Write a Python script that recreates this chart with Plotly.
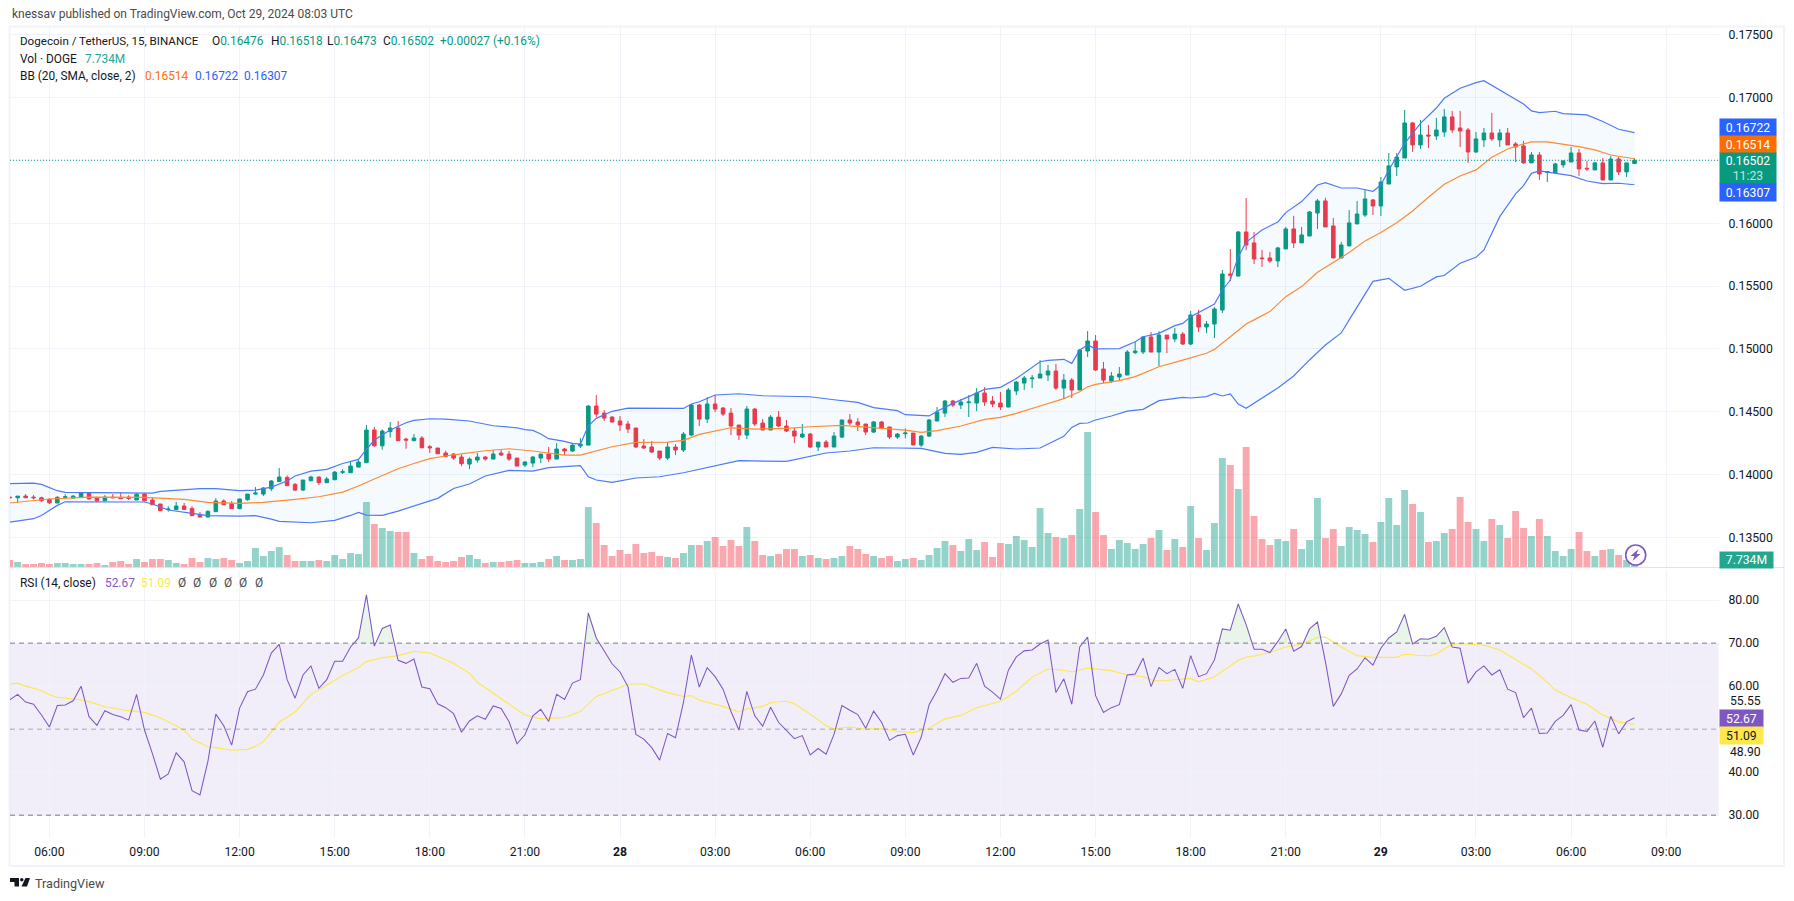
import numpy as np
import pandas as pd
import plotly.graph_objects as go

# ---- data (prices in 1e-5 USDT, one value per 15-minute bar) ----
opens_e5 = [
13820,13815,13828,13820,13815,13802,13773,13818,13812,13820,
13852,13815,13791,13820,13818,13820,13797,13844,13797,13765,
13720,13720,13749,13730,13682,13661,13704,13789,13767,13728,
13799,13844,13844,13887,13943,13977,13921,13876,13950,13980,
13935,13958,14017,14014,14059,14094,14354,14229,14341,14370,
14282,14269,14290,14221,14211,14171,14163,14139,14083,14115,
14139,14123,14171,14163,14131,14075,14091,14131,14163,14123,
14203,14187,14227,14234,14545,14489,14457,14426,14402,14370,
14227,14219,14187,14131,14219,14195,14314,14553,14441,14561,
14529,14489,14394,14314,14521,14410,14354,14457,14386,14346,
14298,14322,14219,14258,14219,14298,14434,14418,14402,14338,
14418,14378,14298,14325,14330,14235,14306,14426,14489,14585,
14553,14572,14569,14649,14585,14569,14537,14665,14728,14763,
14768,14792,14824,14688,14752,14673,14983,15063,14840,14744,
14776,14792,14970,14975,15095,14975,15110,15079,15118,15039,
15270,15174,15198,15310,15596,15580,15931,15844,15724,15724,
15700,15796,15955,15844,15899,16082,16178,15979,15724,15820,
15995,16066,16186,16138,16313,16449,16520,16799,16624,16703,
16695,16727,16847,16759,16743,16568,16664,16719,16664,16719,
16632,16616,16481,16544,16406,16401,16465,16488,16560,16438,
16425,16481,16345,16512,16409,16476]
highs_e5 = [
13823,13828,13844,13836,13823,13810,13828,13842,13836,13860,
13858,13823,13836,13844,13858,13834,13852,13850,13818,13765,
13746,13781,13773,13746,13701,13714,13812,13802,13789,13805,
13844,13900,13900,13956,14051,13993,13932,13956,13990,13985,
13980,14027,14043,14102,14115,14394,14378,14359,14418,14426,
14293,14322,14306,14234,14211,14189,14171,14160,14136,14171,
14147,14195,14200,14187,14131,14107,14147,14163,14219,14250,
14211,14242,14290,14553,14633,14513,14465,14465,14426,14370,
14282,14266,14187,14258,14242,14338,14561,14561,14617,14633,
14537,14529,14394,14545,14529,14441,14473,14505,14434,14370,
14402,14330,14258,14274,14338,14434,14481,14449,14402,14426,
14426,14378,14330,14367,14330,14314,14442,14537,14593,14593,
14601,14633,14688,14696,14625,14657,14688,14744,14784,14792,
14911,14872,14880,14800,14768,15000,15142,15110,14896,14816,
14856,14991,15055,15103,15134,15142,15110,15166,15134,15302,
15310,15222,15333,15628,15795,15939,16201,15931,15788,15772,
15812,15971,16059,15971,16098,16194,16202,16043,15852,16106,
16178,16266,16194,16369,16560,16560,16902,16807,16823,16783,
16839,16910,16895,16895,16759,16727,16759,16879,16751,16759,
16648,16656,16568,16568,16417,16481,16504,16608,16592,16496,
16488,16520,16536,16528,16481,16518]
lows_e5 = [
13810,13775,13812,13802,13781,13765,13773,13805,13812,13820,
13802,13778,13789,13812,13805,13797,13797,13786,13757,13709,
13704,13717,13717,13669,13661,13661,13704,13757,13725,13725,
13791,13839,13828,13868,13940,13908,13868,13868,13948,13916,
13932,13956,14004,14014,14059,14094,14219,14197,14293,14266,
14205,14266,14211,14171,14165,14136,14118,14067,14043,14094,
14110,14123,14147,14107,14067,14059,14059,14091,14099,14123,
14155,14179,14211,14234,14457,14426,14415,14346,14330,14211,
14203,14171,14115,14115,14155,14179,14306,14386,14410,14497,
14465,14314,14274,14282,14386,14354,14354,14378,14338,14250,
14290,14211,14187,14219,14219,14290,14394,14346,14314,14330,
14362,14282,14282,14288,14235,14219,14298,14426,14458,14537,
14521,14458,14505,14545,14537,14513,14537,14633,14673,14688,
14768,14744,14673,14601,14609,14673,14935,14824,14728,14728,
14744,14792,14959,14959,14975,14864,14967,15055,15031,15031,
15134,15126,15087,15286,15540,15580,15787,15676,15652,15684,
15652,15796,15804,15844,15899,15955,15971,15724,15724,15820,
15995,16051,16066,16059,16313,16377,16520,16568,16592,16600,
16664,16688,16719,16608,16481,16560,16608,16656,16608,16624,
16488,16473,16481,16345,16329,16401,16441,16488,16377,16417,
16425,16345,16345,16385,16369,16473]
closes_e5 = [
13815,13828,13815,13815,13791,13775,13818,13823,13828,13855,
13805,13791,13820,13815,13807,13810,13842,13791,13759,13712,
13725,13749,13722,13672,13661,13706,13789,13759,13728,13805,
13844,13852,13892,13948,13980,13911,13876,13956,13980,13935,
13964,14019,14022,14067,14099,14354,14229,14346,14370,14269,
14274,14290,14213,14213,14165,14144,14131,14086,14123,14139,
14123,14163,14155,14123,14067,14099,14139,14163,14123,14203,
14187,14234,14242,14545,14481,14449,14418,14394,14362,14219,
14211,14179,14131,14219,14195,14322,14553,14441,14561,14521,
14481,14386,14314,14521,14402,14354,14457,14386,14346,14306,
14322,14219,14258,14219,14306,14434,14410,14394,14338,14418,
14370,14298,14322,14330,14235,14306,14434,14497,14585,14553,
14577,14577,14649,14577,14561,14537,14673,14736,14768,14768,
14800,14824,14688,14752,14673,14991,15063,14832,14752,14784,
14800,14975,14983,15095,14975,15110,15079,15118,15039,15270,
15174,15198,15318,15596,15588,15931,15827,15716,15719,15700,
15804,15955,15844,15907,16090,16178,15971,15724,15828,16003,
16074,16194,16138,16329,16457,16528,16799,16624,16703,16695,
16743,16847,16743,16735,16568,16672,16719,16672,16719,16624,
16608,16481,16544,16393,16412,16473,16496,16560,16433,16433,
16481,16345,16512,16409,16481,16502]
volumes_m = [
10.5,7.5,4.5,4.5,6,4.5,6,6,4.5,4.5,
4.5,6,3,7.5,9,4.5,12,7.5,12,12,
10.5,6,4.5,13.5,7.5,13.5,12,13.5,10.5,6,
9,28.5,16.5,24,30,18,9,9,9,10.5,
9,18,12,21,19.5,97.5,64.5,58.5,54,52.5,
52.5,21,12,16.5,9,7.5,9,15,18,12,
6,7.5,7.5,9,10.5,6,6,7.5,12,16.5,
10.5,10.5,12,90,66,33,16.5,25.5,19.5,34.5,
21,22.5,16.5,15,13.5,21,33,33,39,45,
31.5,40.5,31.5,60,39,18,16.5,19.5,27,27,
16.5,18,13.5,12,13.5,16.5,31.5,27,19.5,16.5,
13.5,16.5,9,12,13.5,10.5,18,28.5,39,33,
24,42,25.5,37.5,15,36,34.5,46.5,40.5,30,
88.5,51,45,43.5,48,87,202.5,82.5,48,27,
40.5,36,27,34.5,43.5,55.5,25.5,42,30,91.5,
43.5,25.5,66,163.5,153,117,180,76.5,42,33,
42,39,57,27,40.5,103.5,43.5,57,31.5,60,
55.5,49.5,37.5,67.5,103.5,63,115.5,94.5,82.5,37.5,
39,51,57,105,67.5,57,39,72,63,43.5,
84,58.5,46.5,72,46.5,24,16.5,27,52.5,24,
16.5,25.5,27,18,10.5,7.734]
rsi_values = [
56.8,58.1,56.3,55.8,53.3,50.5,55.5,55.6,56.6,60.0,
52.9,50.9,54.3,53.4,52.9,52.1,58.1,49.8,44.3,38.4,
39.6,44.5,42.4,35.7,34.7,42.5,53.5,50.8,46.3,54.9,
58.7,59.3,62.6,67.7,69.7,61.5,57.2,62.6,64.7,59.5,
61.5,65.8,65.8,69.1,71.2,81.2,69.3,73.4,74.2,66.0,
65.3,66.3,59.8,59.4,55.9,55.0,53.6,49.3,51.9,53.1,
52.3,55.4,54.8,51.7,46.6,48.7,53.1,54.6,51.8,58.1,
56.9,60.7,61.5,77.0,71.2,68.1,65.2,63.3,59.9,48.8,
47.7,45.7,42.8,49.0,48.0,56.2,67.2,59.8,64.3,62.2,
59.3,54.1,49.8,58.8,53.1,50.7,55.1,51.6,49.8,47.8,
48.5,44.0,45.5,44.2,48.8,55.5,54.4,53.4,50.2,54.2,
51.6,47.4,48.5,48.8,44.0,48.1,55.7,59.0,62.9,60.9,
61.8,61.9,65.3,60.0,58.6,57.0,63.7,66.8,68.2,68.4,
69.8,70.7,58.5,61.7,55.8,69.1,71.4,57.8,53.9,55.0,
55.7,62.6,62.8,66.5,59.9,64.3,62.9,63.9,59.5,67.1,
62.2,62.9,66.1,73.3,73.0,79.1,74.3,68.6,68.6,67.8,
70.4,73.3,68.1,69.2,73.3,74.9,65.7,55.3,58.2,62.5,
64.0,66.6,64.9,68.8,71.2,72.6,76.7,69.8,71.0,70.9,
71.6,73.6,69.1,68.8,60.7,63.3,64.7,62.6,63.8,59.3,
58.5,52.7,54.9,49.0,49.1,51.8,53.2,55.7,49.8,49.5,
51.9,45.8,53.0,48.9,51.7,52.67]

# Sampled indicator readings: bar number (0 = Oct 27 06:00) and value
bb_upper_bars = [-5,-2,-1,0,1,2,8,13,14,16,19,21,24,26,28,30,31,33,35,37,39,40,41,43,45,46,48,50,51,53,56,58,59,60,61,62,63,65,66,67,68,69,71,73,80,81,82,84,86,87,90,96,99,102,104,107,108,111,112,114,116,118,120,122,125,126,128,129,130,131,132,135,137,138,140,142,143,144,147,148,149,150,151,153,155,156,158,160,161,163,165,167,168,169,171,173,175,176,178,180,181,184,186,187,188,190,191,194,196,198,200]
bb_upper_e5 = [13927,13932,13921,13897,13871,13858,13855,13852,13866,13874,13887,13887,13871,13876,13900,13948,13988,14027,14041,14088,14120,14200,14274,14354,14412,14431,14444,14441,14436,14426,14388,14375,14372,14357,14351,14322,14285,14264,14248,14242,14388,14447,14503,14529,14526,14561,14579,14633,14643,14643,14627,14619,14595,14574,14532,14508,14476,14466,14503,14566,14620,14678,14694,14765,14898,14909,14917,14885,14991,15031,15000,15002,15057,15097,15124,15185,15203,15256,15357,15469,15548,15734,15850,15947,16011,16085,16173,16305,16324,16281,16281,16255,16305,16425,16637,16796,16918,16995,17075,17120,17136,17022,16950,16895,16881,16892,16873,16863,16810,16749,16722]
bb_basis_bars = [-5,0,5,12,17,20,24,27,31,34,37,39,41,44,46,48,50,51,55,58,61,65,67,71,74,78,80,82,86,89,93,96,100,104,107,108,110,112,115,118,120,122,125,128,130,131,132,135,137,140,143,146,147,149,151,152,154,156,158,160,162,164,166,168,170,172,174,176,178,180,182,184,186,187,189,191,193,195,197,200]
bb_basis_e5 = [13773,13805,13820,13818,13802,13778,13770,13778,13802,13823,13860,13908,13964,14046,14088,14126,14147,14157,14189,14205,14187,14155,14155,14221,14256,14258,14272,14319,14372,14362,14367,14380,14391,14372,14357,14354,14336,14349,14386,14439,14455,14487,14545,14604,14659,14699,14718,14747,14779,14858,14911,14965,14996,15097,15198,15231,15297,15416,15496,15610,15687,15767,15860,15926,16005,16098,16207,16311,16377,16425,16526,16592,16632,16648,16648,16629,16611,16584,16544,16514]
bb_lower_bars = [-5,-2,-1,0,1,2,8,12,13,15,18,20,24,26,28,29,33,36,38,39,40,42,44,46,49,51,53,55,58,61,63,67,68,69,71,74,77,80,84,87,93,96,98,101,104,107,110,113,115,117,119,122,125,128,129,130,131,132,134,136,138,140,143,144,146,147,148,149,150,151,153,155,157,159,161,163,164,165,166,167,169,171,173,175,176,178,180,181,183,185,186,187,188,190,192,194,196,198,200]
bb_lower_e5 = [13621,13648,13674,13712,13754,13783,13781,13781,13765,13717,13690,13672,13669,13672,13645,13627,13616,13635,13674,13698,13677,13674,13709,13749,13810,13889,13924,13988,14033,14027,14054,14070,13982,13956,13937,13972,13982,14014,14067,14110,14104,14142,14171,14187,14213,14211,14208,14168,14160,14176,14216,14203,14211,14304,14375,14407,14410,14434,14466,14505,14519,14588,14614,14609,14620,14646,14625,14641,14561,14527,14609,14689,14784,14912,15031,15127,15231,15334,15438,15538,15562,15467,15499,15573,15584,15682,15729,15788,16053,16234,16300,16398,16417,16398,16380,16337,16316,16319,16307]
rsi_ma_bars = [-5,-4,-3,-1,0,1,4,5,7,10,12,14,16,17,18,20,21,23,25,26,27,29,31,33,35,37,39,40,42,44,46,48,51,53,54,57,59,60,62,65,67,69,72,73,75,78,80,81,82,85,87,88,90,91,93,94,96,98,99,101,103,105,107,109,111,113,115,117,120,122,124,126,128,129,131,134,136,138,139,140,142,144,145,147,150,151,152,154,156,158,160,161,163,165,167,170,171,174,175,176,177,178,181,183,185,187,189,190,192,194,196,198,200]
rsi_ma_values = [60.5,60.7,60.0,59.0,58.0,57.4,56.8,56.4,55.2,54.3,53.9,52.6,50.8,49.7,47.7,45.9,45.7,45.1,45.3,46.0,47.1,51.6,54.0,58.1,60.2,62.5,64.3,65.7,66.6,67.1,68.1,67.7,65.3,63.0,60.9,57.0,54.5,53.3,52.4,52.7,54.1,57.6,59.7,60.5,60.5,58.5,57.6,57.8,56.7,55.3,54.0,54.7,55.3,56.2,56.5,55.9,53.5,50.8,50.1,50.5,50.0,50.1,49.5,49.2,50.2,52.4,53.2,55.0,56.5,58.8,62.1,64.0,63.7,63.3,64.2,63.6,62.6,62.2,61.5,61.2,61.5,61.8,61.0,62.2,66.0,66.7,67.0,67.8,69.1,69.8,71.3,71.4,69.1,67.1,66.7,66.7,67.4,67.0,67.4,68.7,69.7,69.9,69.5,68.4,66.2,64.0,60.9,59.1,57.3,55.8,53.3,51.7,51.09]

tick_times = ["2024-10-27 06:00","2024-10-27 09:00","2024-10-27 12:00","2024-10-27 15:00","2024-10-27 18:00","2024-10-27 21:00",
              "2024-10-28 00:00","2024-10-28 03:00","2024-10-28 06:00","2024-10-28 09:00","2024-10-28 12:00","2024-10-28 15:00",
              "2024-10-28 18:00","2024-10-28 21:00","2024-10-29 00:00","2024-10-29 03:00","2024-10-29 06:00","2024-10-29 09:00"]
tick_labels = ["06:00","09:00","12:00","15:00","18:00","21:00","<b>28</b>","03:00","06:00","09:00","12:00","15:00","18:00","21:00","<b>29</b>","03:00","06:00","09:00"]
price_ticks = [0.135,0.14,0.145,0.15,0.155,0.16,0.17,0.175]
rsi_ticks = [30,40,60,70,80]

# ---- derived ----
W, H = 1794, 901
def fx(x): return x / W
def fy(y): return 1 - y / H

dates = pd.date_range("2024-10-27 04:45", periods=len(closes_e5), freq="15min")
t0 = pd.Timestamp("2024-10-27 06:00")
def bar_time(b): return t0 + pd.to_timedelta(np.asarray(b, dtype=float) * 15, unit="min")

o, h, l, c = [np.array(a) / 1e5 for a in (opens_e5, highs_e5, lows_e5, closes_e5)]
UP, DOWN = "#089981", "#F23645"
FONT = "Roboto, 'Open Sans', sans-serif"
TXT = "#131722"

X_L, X_R = 10, 1718.5
P_T, P_B = 28, 567
R_T, R_B = 570, 838
x_range = [bar_time(-4.97), bar_time(210.6)]

fig = go.Figure()

# volume
vol_colors = ["rgba(8,153,129,0.43)" if cc >= oo else "rgba(242,54,69,0.43)" for oo, cc in zip(o, c)]
fig.add_bar(x=dates, y=volumes_m, marker=dict(color=vol_colors, line_width=0), width=900000 * 0.87,
            xaxis="x", yaxis="y", hoverinfo="skip")

# Bollinger band
fig.add_scatter(x=bar_time(bb_lower_bars), y=np.array(bb_lower_e5) / 1e5, mode="lines",
                line=dict(color="#4F79F7", width=1.2), xaxis="x", yaxis="y2", hoverinfo="skip")
fig.add_scatter(x=bar_time(bb_upper_bars), y=np.array(bb_upper_e5) / 1e5, mode="lines",
                line=dict(color="#4F79F7", width=1.2), fill="tonexty", fillcolor="rgba(33,150,243,0.05)",
                xaxis="x", yaxis="y2", hoverinfo="skip")
fig.add_scatter(x=bar_time(bb_basis_bars), y=np.array(bb_basis_e5) / 1e5, mode="lines",
                line=dict(color="#FF8A30", width=1.2), xaxis="x", yaxis="y2", hoverinfo="skip")

# candles
fig.add_candlestick(x=dates, open=o, high=h, low=l, close=c, xaxis="x", yaxis="y2",
                    increasing=dict(line=dict(color=UP, width=1), fillcolor=UP),
                    decreasing=dict(line=dict(color=DOWN, width=1), fillcolor=DOWN),
                    hoverinfo="skip")

# RSI overbought fill: split the RSI line where it crosses 70
rsi = np.array(rsi_values)
bars = np.arange(len(rsi)) - 5.0
fx_b, fx_v = [], []
for i in range(len(rsi)):
    if i and (rsi[i-1] - 70) * (rsi[i] - 70) < 0:
        fx_b.append(bars[i-1] + (70 - rsi[i-1]) / (rsi[i] - rsi[i-1]))
        fx_v.append(70.0)
    fx_b.append(bars[i])
    fx_v.append(max(rsi[i], 70.0))
fig.add_scatter(x=bar_time(fx_b), y=[70.0] * len(fx_b), mode="lines", line=dict(width=0),
                xaxis="x2", yaxis="y3", hoverinfo="skip")
fig.add_scatter(x=bar_time(fx_b), y=fx_v, mode="lines", line=dict(width=0), fill="tonexty",
                fillcolor="rgba(76,175,80,0.13)", xaxis="x2", yaxis="y3", hoverinfo="skip")
fig.add_scatter(x=bar_time(rsi_ma_bars), y=rsi_ma_values, mode="lines", line=dict(color="#FDE74C", width=1.1),
                xaxis="x2", yaxis="y3", hoverinfo="skip")
fig.add_scatter(x=dates, y=rsi, mode="lines", line=dict(color="#7E57C2", width=1.05),
                xaxis="x2", yaxis="y3", hoverinfo="skip")

GRID = "#F0F3FA"
axfont = dict(family=FONT, size=12.2, color=TXT)
shapes = [
    dict(type="rect", xref="paper", yref="paper", x0=fx(9.5), x1=fx(1784), y0=fy(26.5), y1=fy(866),
         line=dict(color="#F0F3FA", width=2), layer="below"),
    dict(type="line", xref="paper", yref="paper", x0=fx(10), x1=fx(1784), y0=fy(567.5), y1=fy(567.5),
         line=dict(color="#E0E3EB", width=1)),
    dict(type="rect", xref="x2 domain", yref="y3", x0=0, x1=1, y0=30, y1=70,
         fillcolor="rgba(126,87,194,0.1)", line_width=0, layer="below"),
    dict(type="line", xref="x2 domain", yref="y3", x0=0, x1=1, y0=70, y1=70,
         line=dict(color="#787B86", width=1, dash="5px,4px")),
    dict(type="line", xref="x2 domain", yref="y3", x0=0, x1=1, y0=50, y1=50,
         line=dict(color="rgba(120,123,134,0.6)", width=1, dash="5px,4px")),
    dict(type="line", xref="x2 domain", yref="y3", x0=0, x1=1, y0=30, y1=30,
         line=dict(color="#787B86", width=1, dash="5px,4px")),
    dict(type="line", xref="x domain", yref="y2", x0=0, x1=1, y0=c[-1], y1=c[-1],
         line=dict(color=UP, width=1, dash="1px,2px")),
    # replay bolt
    dict(type="circle", xref="paper", yref="paper", x0=fx(1625.7), x1=fx(1645.7), y0=fy(565), y1=fy(545),
         line=dict(color="#7E57C2", width=1.6), fillcolor="white"),
    dict(type="path", xref="paper", yref="paper", fillcolor="#7E57C2", line_width=0,
         path="M {:.5f},{:.5f} L {:.5f},{:.5f} L {:.5f},{:.5f} L {:.5f},{:.5f} L {:.5f},{:.5f} L {:.5f},{:.5f} Z".format(
             fx(1638.5), fy(549), fx(1630.5), fy(556), fx(1634.5), fy(556), fx(1632.5), fy(561), fx(1640.5), fy(554), fx(1636.5), fy(554))),
    # logo
    dict(type="path", xref="paper", yref="paper", fillcolor="#131722", line_width=0,
         path="M {:.5f},{:.5f} L {:.5f},{:.5f} L {:.5f},{:.5f} L {:.5f},{:.5f} L {:.5f},{:.5f} L {:.5f},{:.5f} Z".format(
             fx(10), fy(878), fx(19), fy(878), fx(19), fy(886.5), fx(14.5), fy(886.5), fx(14.5), fy(882), fx(10), fy(882))),
    dict(type="circle", xref="paper", yref="paper", fillcolor="#131722", line_width=0,
         x0=fx(20), x1=fx(23.5), y0=fy(881.6), y1=fy(878)),
    dict(type="path", xref="paper", yref="paper", fillcolor="#131722", line_width=0,
         path="M {:.5f},{:.5f} L {:.5f},{:.5f} L {:.5f},{:.5f} L {:.5f},{:.5f} Z".format(
             fx(25.5), fy(878), fx(30), fy(878), fx(27), fy(886.5), fx(21.5), fy(886.5))),
]

annotations = []
LEG = 11.9
def label(x, y, text, color=TXT, size=LEG, anchor="left"):
    annotations.append(dict(xref="paper", yref="paper", x=fx(x), y=fy(y), text=text, showarrow=False,
                            xanchor=anchor, yanchor="middle", font=dict(family=FONT, size=size, color=color)))
def badge(top, height, text, bg, color="white", width=56):
    annotations.append(dict(xref="paper", yref="paper", x=fx(1719), y=fy(top), text=text, showarrow=False,
                            xanchor="left", yanchor="top", width=width, height=height, bgcolor=bg, borderpad=0,
                            align="center", valign="middle", font=dict(family=FONT, size=12.2, color=color)))

label(10, 14, "knessav published on TradingView.com, Oct 29, 2024 08:03 UTC", color="#4A4A4A", size=12)
label(18, 41, "Dogecoin / TetherUS, 15, BINANCE", size=11.6)
val = lambda k, v: f"{k}<span style='color:{UP}'>{v}</span>"
label(210, 41, val("O", "0.16476"))
label(268.5, 41, val("H", "0.16518"))
label(325, 41, val("L", "0.16473"))
label(381, 41, val("C", "0.16502"))
label(437.5, 41, "+0.00027 (+0.16%)", color=UP)
label(18, 59, "Vol · DOGE")
label(83, 59, "7.734M", color="#26A69A")
label(18, 76, "BB (20, SMA, close, 2)")
label(142.7, 76, "0.16514", color="#FF6D00")
label(192.5, 76, "0.16722", color="#2962FF")
label(242, 76, "0.16307", color="#2962FF")
label(18, 583, "RSI (14, close)")
label(102.6, 583, "52.67", color="#7E57C2")
label(138.5, 583, "51.09", color="#FDE74C")
for xx in (175.7, 191, 206.7, 222, 237.3, 252.6):
    label(xx, 583, "Ø", color="#4A4A4A")
label(33, 883, "TradingView", color="#4A4A4A", size=12.6)

badge(118, 17, "0.16722", "#2962FF")
badge(135, 17, "0.16514", "#FF6D00")
badge(152, 31, "0.16502<br><span style='color:rgba(255,255,255,0.75)'>11:23</span>", UP)
badge(183, 17, "0.16307", "#2962FF")
badge(551, 16, "7.734M", "#22A68F", width=53)
badge(709, 17, "52.67", "#7E57C2", width=43)
badge(726, 17, "51.09", "#FDE74C", color=TXT, width=43)
label(1728, 700.7, "55.55", size=12.2)
label(1728, 751.7, "48.90", size=12.2)

# price scale: top and bottom of the pane expressed in price
price_bottom, price_top = 0.132635, 0.17555
# RSI scale
rsi_bottom, rsi_top = 24.7, 87.0

dom_x = [fx(X_L), fx(X_R)]
fig.update_layout(
    width=W, height=H, autosize=False, margin=dict(l=0, r=0, t=0, b=0, pad=0),
    paper_bgcolor="white", plot_bgcolor="white", showlegend=False, bargap=0.12, boxgap=0.36,
    hovermode=False, shapes=shapes, annotations=annotations,
    font=dict(family=FONT, color=TXT),
    xaxis=dict(domain=dom_x, range=x_range, type="date", anchor="y", showticklabels=False,
               tickvals=tick_times, showgrid=True, gridcolor=GRID, gridwidth=1, zeroline=False,
               rangeslider=dict(visible=False), fixedrange=True),
    xaxis2=dict(domain=dom_x, range=x_range, type="date", anchor="y3", tickvals=tick_times, ticktext=tick_labels,
                showgrid=True, gridcolor=GRID, gridwidth=1, zeroline=False, tickfont=axfont, ticks="",
                ticklabelstandoff=5, matches="x", fixedrange=True),
    yaxis=dict(domain=[fy(P_B), fy(P_T)], range=[0, (P_B - P_T) * 1.5], showgrid=False, zeroline=False,
               showticklabels=False, fixedrange=True),
    yaxis2=dict(domain=[fy(P_B), fy(P_T)], overlaying="y", anchor="x", side="right", range=[price_bottom, price_top],
                tickvals=price_ticks + [0.165], ticktext=[f"{v:.5f}" for v in price_ticks] + [""], showgrid=True,
                gridcolor=GRID, gridwidth=1, zeroline=False, tickfont=axfont, ticks="", ticklabelstandoff=9, fixedrange=True),
    yaxis3=dict(domain=[fy(R_B), fy(R_T)], anchor="x2", side="right", range=[rsi_bottom, rsi_top],
                tickvals=rsi_ticks, ticktext=[f"{v:.2f}" for v in rsi_ticks], showgrid=True, gridcolor=GRID, gridwidth=1,
                zeroline=False, tickfont=axfont, ticks="", ticklabelstandoff=9, fixedrange=True),
)

fig.write_html("out.html", config=dict(displayModeBar=False),
               post_script="document.body.style.margin='0';document.body.style.overflow='hidden';")
